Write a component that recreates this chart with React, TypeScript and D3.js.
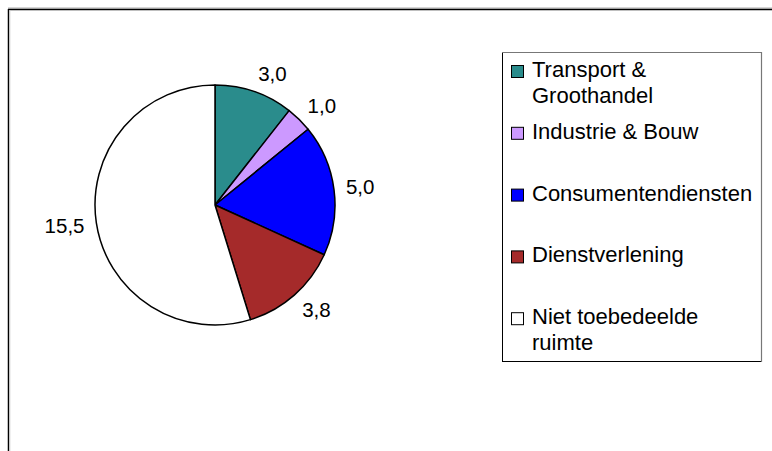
import React from "react";
import * as d3 from "d3";

const categories = [
  "Transport & Groothandel",
  "Industrie & Bouw",
  "Consumentendiensten",
  "Dienstverlening",
  "Niet toebedeelde ruimte",
];
const values = [3.0, 1.0, 5.0, 3.8, 15.5];
const valueLabels = ["3,0", "1,0", "5,0", "3,8", "15,5"];
const colors = ["#2A8C8C", "#CC99FF", "#0000FF", "#A52A2A", "#FFFFFF"];

const W = 772;
const H = 451;
const FONT = "Liberation Sans, Arial, sans-serif";

let canvasCtx: CanvasRenderingContext2D | null = null;
function measure(text: string, size: number) {
  if (!canvasCtx) {
    const c = document.createElement("canvas");
    canvasCtx = c.getContext("2d");
  }
  if (!canvasCtx) return text.length * size * 0.55;
  canvasCtx.font = `${size}px "Liberation Sans", Arial, sans-serif`;
  return canvasCtx.measureText(text).width;
}

function wrap(text: string, size: number, maxW: number) {
  const words = text.split(" ");
  const lines: string[] = [];
  let cur = "";
  for (const w of words) {
    const t = cur ? cur + " " + w : w;
    if (measure(t, size) > maxW && cur) {
      lines.push(cur);
      cur = w;
    } else cur = t;
  }
  if (cur) lines.push(cur);
  return lines;
}

export default function App() {
  const cx = 215;
  const cy = 205;
  const r = 120;
  const labelSize = 20.5;
  const legendSize = 22;

  const pie = d3.pie<number>().sort(null).value((d) => d)(values);
  const arc = d3.arc<d3.PieArcDatum<number>>().innerRadius(0).outerRadius(r);

  const legX = 502;
  const legY0 = 52;
  const legY1 = 361;
  const legW = 259;
  const band = d3.scaleBand<string>().domain(categories).range([legY0, legY1]);

  return (
    <svg
      width={W}
      height={H}
      style={{ position: "absolute", left: 0, top: 0, background: "#fff" }}
      fontFamily={FONT}
    >
      <rect x={0} y={0} width={W} height={H} fill="#fff" />
      {/* outer frame */}
      <line x1={8} y1={8} x2={W} y2={8} stroke="#aaa" strokeWidth={1} />
      <line x1={8} y1={9.5} x2={W} y2={9.5} stroke="#000" strokeWidth={1.5} />
      <line x1={8.5} y1={9} x2={8.5} y2={H} stroke="#000" strokeWidth={1.5} />
      <line x1={9.8} y1={10} x2={9.8} y2={H} stroke="#ccc" strokeWidth={1} />

      <g transform={`translate(${cx},${cy})`}>
        {pie.map((p, i) => (
          <path
            key={i}
            d={arc(p) || ""}
            fill={colors[i]}
            stroke="#000"
            strokeWidth={1.5}
            strokeLinejoin="round"
          />
        ))}
        {pie.map((p, i) => {
          const a = (p.startAngle + p.endAngle) / 2;
          const R = r + 12;
          const px = Math.sin(a) * R;
          const py = -Math.cos(a) * R;
          const tw = measure(valueLabels[i], labelSize);
          const th = labelSize * 0.7;
          const s = Math.sin(a);
          const lx = px + (s >= 0 ? 1 : -1) * (tw / 2);
          const ly = py - (th / 2) * Math.cos(a);
          return (
            <text
              key={"l" + i}
              x={lx}
              y={ly + labelSize * 0.35}
              textAnchor="middle"
              fontSize={labelSize}
              fill="#000"
            >
              {valueLabels[i]}
            </text>
          );
        })}
      </g>

      {/* legend */}
      <rect x={legX + 0.5} y={legY0 + 0.5} width={legW} height={legY1 - legY0} fill="#fff" stroke="#000" strokeWidth={1} />
      <line x1={legX} y1={legY0 + 0.5} x2={legX + legW + 1} y2={legY0 + 0.5} stroke="#777" strokeWidth={1.2} />
      <line x1={legX + legW + 0.5} y1={legY0} x2={legX + legW + 0.5} y2={legY1 + 1} stroke="#777" strokeWidth={1.2} />
      {categories.map((c, i) => {
        const base = (band(c) as number) + 25;
        const lines = wrap(c, legendSize, 226);
        return (
          <g key={c}>
            <rect x={511.5} y={base - 11.5} width={12} height={12} fill={colors[i]} stroke="#000" strokeWidth={1} />
            {lines.map((ln, j) => (
              <text key={j} x={532} y={base + j * 26} fontSize={legendSize} fill="#000">
                {ln}
              </text>
            ))}
          </g>
        );
      })}
    </svg>
  );
}
